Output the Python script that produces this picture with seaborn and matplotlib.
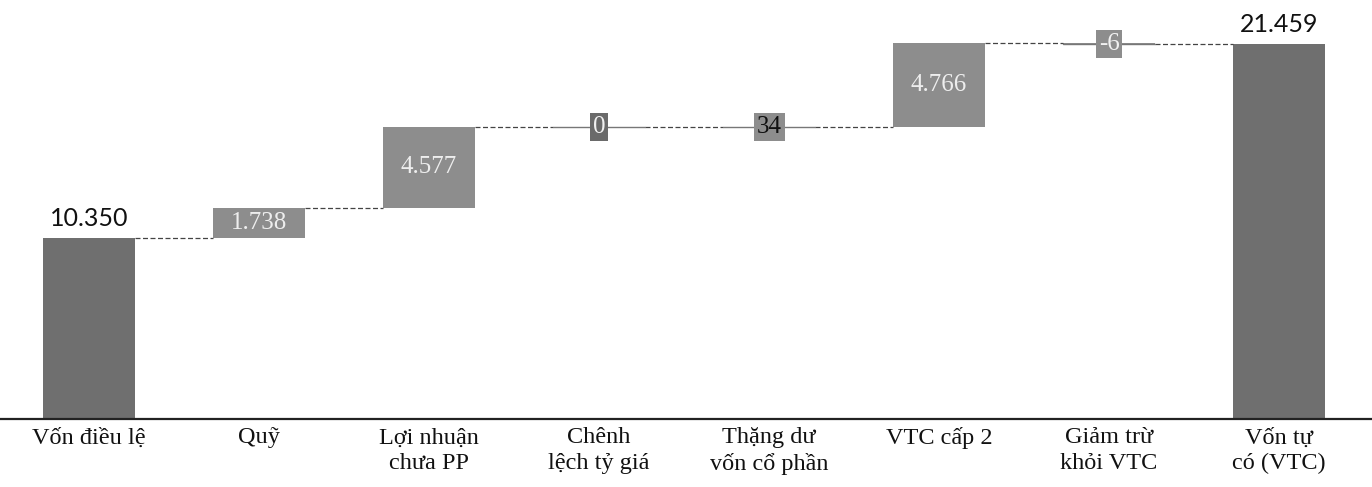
import numpy as np
import pandas as pd
import matplotlib
matplotlib.use("Agg")
import matplotlib.pyplot as plt
import seaborn as sns

categories = ["Vốn điều lệ", "Quỹ", "Lợi nhuận\nchưa PP", "Chênh\nlệch tỷ giá",
              "Thặng dư\nvốn cổ phần", "VTC cấp 2", "Giảm trừ\nkhỏi VTC", "Vốn tự\ncó (VTC)"]
values = [10350, 1738, 4577, 0, 34, 4766, -6, 21459]
is_total = [True, False, False, False, False, False, False, True]

TOTAL_COLOR = "#6f6f6f"
STEP_COLOR = "#8d8d8d"
HALF = 0.27

# waterfall bottoms / heights
bottoms, heights, ends = [], [], []
running = 0
for v, tot in zip(values, is_total):
    if tot:
        bottoms.append(0)
        running = v
    else:
        bottoms.append(running)
        running += v
    heights.append(v)
    ends.append(running)

df = pd.DataFrame({"cat": categories, "h": heights})

sns.set_theme(style="white")
plt.rcParams["font.family"] = ["Liberation Serif", "DejaVu Serif"]

fig = plt.figure(figsize=(13.72, 4.87), dpi=100)
ax = fig.add_axes([0, 0.1396, 1, 0.8604])

sns.barplot(data=df, x="cat", y="h", order=categories, color=STEP_COLOR,
            errorbar=None, width=2 * HALF, bottom=bottoms, saturation=1,
            linewidth=0, ax=ax)
for patch, tot in zip(ax.patches, is_total):
    patch.set_facecolor(TOTAL_COLOR if tot else STEP_COLOR)

# connectors
for i in range(len(values) - 1):
    ax.plot([i + HALF, i + 1 - HALF], [ends[i], ends[i]], ls=(0, (4, 2)),
            color="#444444", lw=0.9, zorder=1)
# tiny steps show up as a thin line across the bar
for i, v in enumerate(values):
    if not is_total[i] and abs(v) < 1000:
        ax.plot([i - HALF, i + HALF], [ends[i], ends[i]], color="#777777",
                lw=1.0, zorder=1)

# labels
for i, (v, tot) in enumerate(zip(values, is_total)):
    txt = f"{v:,}".replace(",", ".")
    if tot:
        ax.text(i, v + 450, txt, ha="center", va="bottom", fontsize=18,
                family=["Lato", "DejaVu Sans"], color="#111111")
    elif abs(v) > 1000:
        ax.text(i, bottoms[i] + v / 2, txt, ha="center", va="center",
                fontsize=18, color="#eeeeee")
    else:
        dark = v == 0
        ax.text(i, ends[i], txt, ha="center", va="center", fontsize=18,
                color="#111111" if v > 0 else "#f0f0f0",
                bbox=dict(boxstyle="square,pad=0.12", lw=0,
                          fc="#6a6a6a" if dark else STEP_COLOR))

ax.set_xlim(-0.524, 7.547)
ax.set_ylim(0, 23950)
ax.set_xlabel("")
ax.set_ylabel("")
ax.set_yticks([])
ax.tick_params(axis="x", length=0, pad=6, labelsize=17.5, colors="#111111")
for lbl in ax.get_xticklabels():
    lbl.set_linespacing(1.3)
for s in ["top", "left", "right"]:
    ax.spines[s].set_visible(False)
ax.spines["bottom"].set_color("#222222")
ax.spines["bottom"].set_linewidth(1.6)

fig.savefig("out.png", dpi=100)
